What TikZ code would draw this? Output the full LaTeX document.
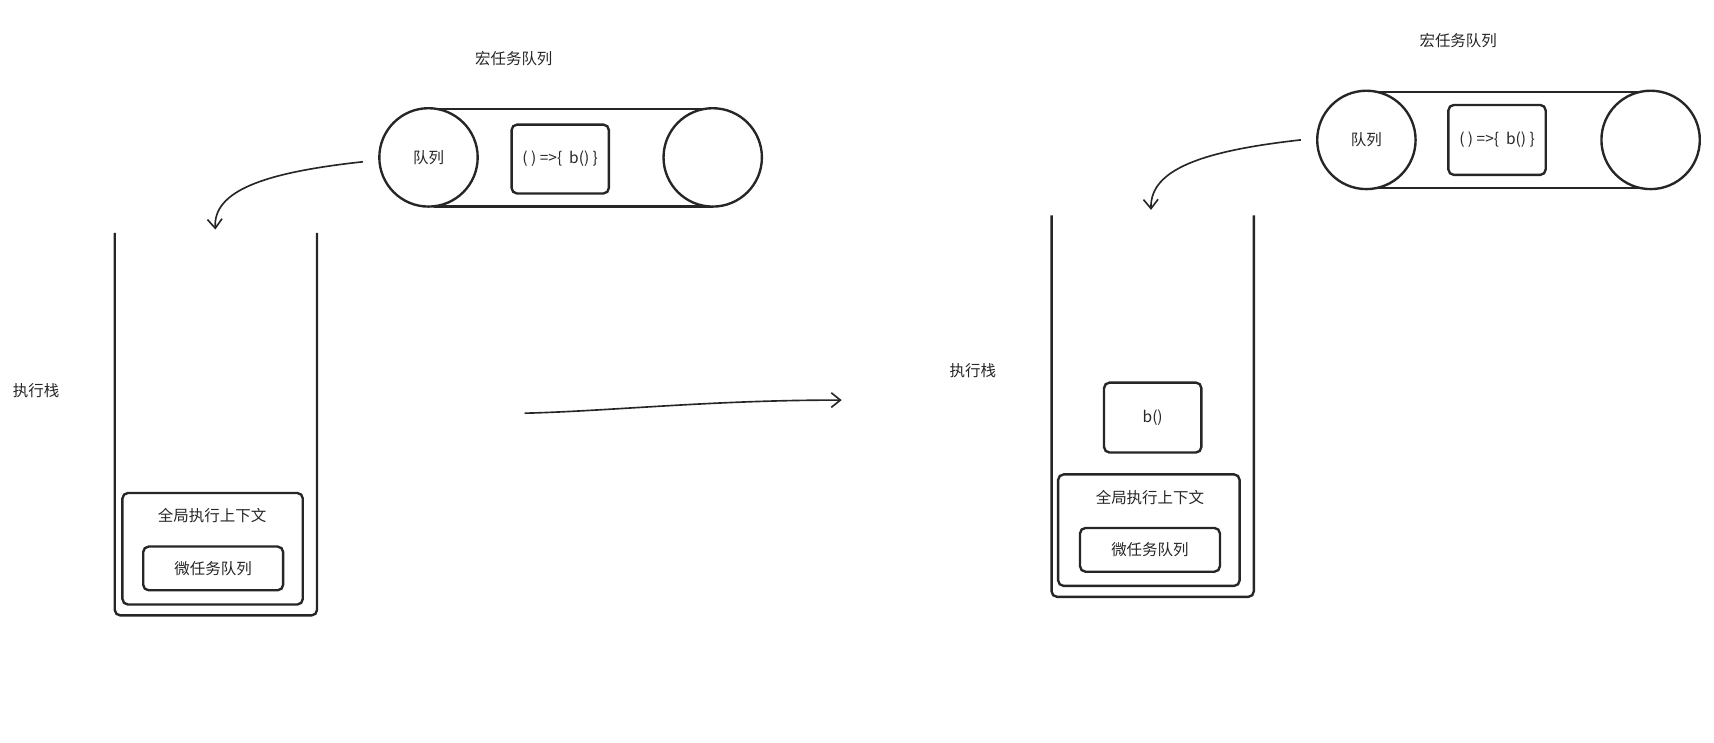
\documentclass[tikz,border=0pt]{standalone}
\usepackage{fontspec}
\setmainfont{Noto Sans CJK SC}
\usetikzlibrary{arrows.meta}
\begin{document}
\begin{tikzpicture}[x=0.6pt,y=-0.6pt,
  ln/.style={line width=1.3pt,draw=black!85},
  rbox/.style={ln,rounded corners=3pt},
  lbl/.style={font=\fontsize{8.5}{10}\selectfont,text=black!85},
  arr/.style={line width=0.9pt,draw=black!85,-{Straight Barb[length=5pt,width=8pt]}}]
\useasboundingbox (0,0) rectangle (1568,679);
% ---------- left panel
\node[lbl] (mq1) at (470,54) {宏任务队列};
\draw[ln] (397,100) -- (652,100) (397,189) -- (652,189);
\node[ln,circle,minimum size=54pt,fill=white,lbl] (c1a) at (392,144) {队列};
\node[ln,circle,minimum size=54pt,fill=white] (c1b) at (652,144) {};
\draw[rbox] (468,114) rectangle (557,177);
\node[lbl] (t1) at (512.5,145.5) {( ) =>\{\ \ b() \}};
\coordinate (a1s) at (332,148);
\coordinate (a1e) at (197,210);
\draw[arr] (a1s) .. controls (240,158) and (195,175) .. (a1e);
\draw[ln,rounded corners=3pt] (105,213) -- (105,563) -- (290,563) -- (290,213);
\draw[rbox] (112,451) rectangle (277,553);
\node[lbl] (g1) at (194,472) {全局执行上下文};
\draw[rbox] (131,500) rectangle (259,540);
\node[lbl] (w1) at (195,520) {微任务队列};
\node[lbl] (s1) at (33,357) {执行栈};
\coordinate (ms) at (480,378);
\coordinate (me) at (770,366);
\draw[arr] (ms) .. controls (560,376) and (650,366) .. (me);
% ---------- right panel
\node[lbl] (mq2) at (1334,37) {宏任务队列};
\draw[ln] (1255,84) -- (1510,84) (1255,172) -- (1510,172);
\node[ln,circle,minimum size=54pt,fill=white,lbl] (c2a) at (1250,128) {队列};
\node[ln,circle,minimum size=54pt,fill=white] (c2b) at (1510,128) {};
\draw[rbox] (1325,96) rectangle (1414,160);
\node[lbl] (t2) at (1369.5,128) {( ) =>\{\ \ b() \}};
\coordinate (a2s) at (1190,128);
\coordinate (a2e) at (1053,192);
\draw[arr] (a2s) .. controls (1100,138) and (1052,155) .. (a2e);
\draw[ln,rounded corners=3pt] (962,197) -- (962,546) -- (1147,546) -- (1147,197);
\draw[rbox] (1010,350) rectangle (1099,414);
\node[lbl] (b2) at (1054.5,382) {b()};
\draw[rbox] (968,434) rectangle (1134,536);
\node[lbl] (g2) at (1052,455) {全局执行上下文};
\draw[rbox] (988,483) rectangle (1116,523);
\node[lbl] (w2) at (1052,503) {微任务队列};
\node[lbl] (s2) at (890,339) {执行栈};
\end{tikzpicture}
\end{document}
